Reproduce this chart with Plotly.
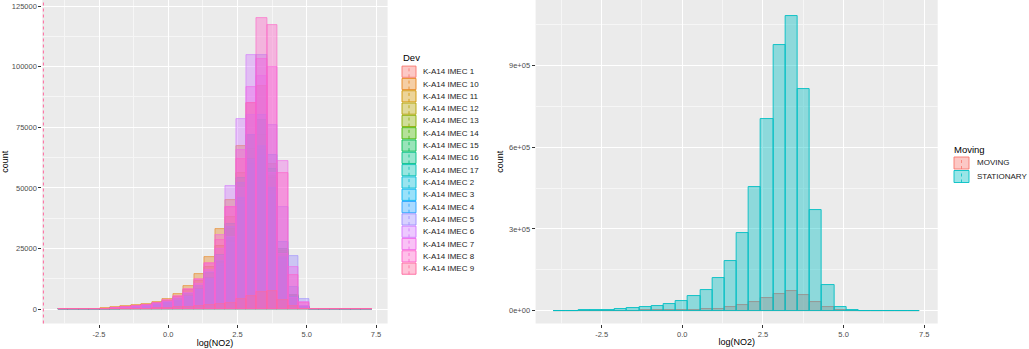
import math
import plotly.graph_objects as go

# ---------------- data ----------------
bin_start = -3.98
bin_width = 0.3777
n_bins = 30

devices = ["K-A14 IMEC 1", "K-A14 IMEC 10", "K-A14 IMEC 11", "K-A14 IMEC 12",
           "K-A14 IMEC 13", "K-A14 IMEC 14", "K-A14 IMEC 15", "K-A14 IMEC 16",
           "K-A14 IMEC 17", "K-A14 IMEC 2", "K-A14 IMEC 3", "K-A14 IMEC 4",
           "K-A14 IMEC 5", "K-A14 IMEC 6", "K-A14 IMEC 7", "K-A14 IMEC 8",
           "K-A14 IMEC 9"]

imec_1 = [80, 90, 100, 130, 250, 400, 600, 900, 1200, 1700, 2300, 3200, 4700, 7000, 10500,
          16000, 25000, 39000, 54000, 60000, 45000, 20000, 5000, 800, 100, 40, 30, 30, 20, 10]
imec_10 = [100, 110, 130, 180, 350, 800, 1200, 1800, 2050, 3150, 4250, 6300, 9450, 14500, 21600,
           33300, 45000, 67400, 85000, 92000, 60000, 25000, 6000, 900, 150, 50, 40, 30, 20, 10]
imec_11 = [60, 70, 90, 120, 220, 500, 800, 1300, 1700, 2600, 3600, 5200, 7800, 11800, 17500,
           26000, 38000, 56000, 72000, 78000, 55000, 24000, 6000, 1000, 120, 40, 30, 30, 20, 10]
imec_12 = [50, 60, 70, 100, 200, 400, 700, 1000, 1400, 2100, 2900, 4200, 6200, 9500, 14500,
           22000, 33000, 50000, 66000, 72000, 54000, 23000, 5500, 800, 100, 30, 20, 20, 20, 10]
imec_13 = [40, 50, 60, 80, 150, 300, 500, 800, 1100, 1600, 2300, 3300, 5000, 7800, 12000,
           18500, 28000, 43000, 58000, 63000, 47000, 19000, 4500, 700, 80, 30, 20, 20, 10, 10]
imec_14 = [40, 40, 50, 70, 130, 250, 450, 700, 1000, 1500, 2100, 3000, 4600, 7200, 11000,
           17000, 26000, 40000, 54000, 58000, 43000, 18000, 4300, 600, 100, 60, 80, 300, 80, 20]
imec_15 = [50, 50, 60, 90, 170, 330, 550, 850, 1200, 1800, 2500, 3600, 5400, 8300, 12800,
           19500, 30000, 46000, 62000, 67000, 50000, 21000, 5000, 800, 90, 30, 20, 20, 20, 10]
imec_16 = [60, 70, 80, 110, 200, 380, 650, 1000, 1400, 2100, 2900, 4200, 6200, 9600, 14800,
           22500, 35000, 54000, 72000, 78000, 58000, 25000, 6000, 900, 110, 40, 30, 20, 20, 10]
imec_17 = [50, 60, 70, 90, 170, 320, 540, 840, 1150, 1700, 2400, 3400, 5100, 7900, 12100,
           18400, 28800, 44800, 60000, 65600, 48800, 20800, 5000, 760, 100, 30, 20, 20, 20, 10]
imec_2 = [50, 60, 70, 90, 170, 310, 520, 820, 1100, 1650, 2300, 3300, 4900, 7600, 11600,
          17600, 27500, 43000, 58000, 63000, 47000, 20200, 4900, 730, 100, 30, 20, 20, 20, 10]
imec_3 = [50, 60, 70, 100, 180, 330, 550, 860, 1160, 1720, 2400, 3480, 5170, 7950, 12200,
          18700, 29200, 45700, 61500, 67500, 50200, 21400, 5200, 790, 100, 40, 20, 20, 20, 10]
imec_4 = [50, 60, 70, 100, 180, 330, 550, 850, 1150, 1700, 2400, 3500, 5200, 8000, 12500,
          20000, 34000, 52000, 72000, 80000, 63600, 27900, 9300, 1500, 200, 60, 40, 30, 20, 10]
imec_5 = [60, 70, 80, 110, 200, 380, 650, 1000, 1400, 2100, 2900, 4200, 6300, 9800, 15500,
          22000, 30000, 50000, 80000, 105000, 76000, 42000, 22000, 4250, 300, 60, 50, 40, 30, 10]
imec_6 = [70, 80, 90, 120, 220, 420, 700, 1100, 1500, 2200, 3100, 4500, 6700, 10400, 16200,
          25000, 51000, 78300, 104800, 96000, 56000, 22800, 4800, 1200, 150, 50, 30, 30, 20, 10]
imec_7 = [80, 90, 100, 140, 260, 480, 800, 1250, 1700, 2500, 3500, 5200, 7950, 12000, 18500,
          30500, 42000, 65700, 91500, 103000, 100000, 61300, 17600, 3150, 250, 60, 40, 30, 30, 10]
imec_8 = [90, 100, 110, 150, 280, 500, 850, 1300, 1800, 2700, 3800, 5500, 8200, 12500, 19000,
          28500, 42000, 62000, 85000, 120000, 117000, 56000, 14000, 2500, 250, 80, 60, 50, 40, 30]
imec_9 = [60, 60, 60, 60, 80, 100, 150, 200, 280, 400, 550, 750, 1000, 1400, 1650,
          2050, 2750, 4100, 5500, 7250, 7650, 3850, 1400, 300, 100, 60, 60, 60, 60, 60]

device_counts = [imec_1, imec_10, imec_11, imec_12, imec_13, imec_14, imec_15, imec_16,
                 imec_17, imec_2, imec_3, imec_4, imec_5, imec_6, imec_7, imec_8, imec_9]

moving_groups = ["MOVING", "STATIONARY"]
moving = [20, 30, 50, 80, 150, 300, 500, 800, 1200, 1800, 2600, 3500, 5000, 8000, 13000,
          21000, 31000, 46500, 62400, 71000, 57500, 31800, 12200, 3000, 300, 50, 30, 20, 20, 10]
stationary = [500, 700, 900, 1500, 4000, 6000, 9000, 13000, 17000, 26000, 35000, 53000, 77000,
              120000, 182000, 285000, 453000, 704000, 973000, 1081000, 814000, 370000, 94000,
              14700, 1500, 400, 300, 300, 400, 200]

x_tick_vals = [-2.5, 0.0, 2.5, 5.0, 7.5]
x_tick_text = ["-2.5", "0.0", "2.5", "5.0", "7.5"]
left_y_tick_vals = [0, 25000, 50000, 75000, 100000, 125000]
left_y_tick_text = ["0", "25000", "50000", "75000", "100000", "125000"]
right_y_tick_vals = [0, 300000, 600000, 900000]
right_y_tick_text = ["0e+00", "3e+05", "6e+05", "9e+05"]

# ---------------- styling helpers ----------------
W, H = 1029, 349
FONT = "Liberation Sans, Arial, sans-serif"
ALPHA_DEV = 0.4
ALPHA_MOV = 0.4


def hcl_rgb(h, c=100.0, l=65.0):
    WHITE_Y, WHITE_u, WHITE_v = 100.0, 0.1978398, 0.4683363
    hr = math.radians(h)
    U, V = c * math.cos(hr), c * math.sin(hr)
    Y = WHITE_Y * (((l + 16) / 116) ** 3 if l > 7.999592 else l / 903.3)
    u = U / (13 * l) + WHITE_u
    v = V / (13 * l) + WHITE_v
    X = 9.0 * Y * u / (4 * v)
    Z = -X / 3 - 5 * Y + 3 * Y / v

    def g(t):
        t = t / WHITE_Y
        t = 1.055 * t ** (1 / 2.4) - 0.055 if t > 0.00304 else 12.92 * t
        return int(round(255 * min(1.0, max(0.0, t))))

    return (g(3.240479 * X - 1.537150 * Y - 0.498535 * Z),
            g(-0.969256 * X + 1.875992 * Y + 0.041556 * Z),
            g(0.055648 * X - 0.204043 * Y + 1.057311 * Z))


def hue_pal(n):
    step = (360 - 360 / n) / (n - 1) if n > 1 else 0
    return [hcl_rgb(15 + i * step) for i in range(n)]


def rgba(c, a):
    return f"rgba({c[0]},{c[1]},{c[2]},{a})"


def rgb(c):
    return f"rgb({c[0]},{c[1]},{c[2]})"


def px(x):
    return x / W


def py(y):
    return 1 - y / H


centers = [bin_start + (i + 0.5) * bin_width for i in range(n_bins)]
dev_cols = hue_pal(len(devices))
mov_cols = hue_pal(len(moving_groups))

fig = go.Figure()

for name, counts, col in zip(devices, device_counts, dev_cols):
    fig.add_trace(go.Bar(x=centers, y=counts, width=bin_width, name=name,
                         marker=dict(color=rgba(col, ALPHA_DEV),
                                     line=dict(color=rgba(col, 0.75), width=0.8)),
                         xaxis="x", yaxis="y", showlegend=False))

for name, counts, col in zip(moving_groups, [moving, stationary], mov_cols):
    fig.add_trace(go.Bar(x=centers, y=counts, width=bin_width, name=name,
                         marker=dict(color=rgba(col, ALPHA_MOV), line=dict(color=rgb(col), width=0.9)),
                         xaxis="x2", yaxis="y2", showlegend=False))

x_range = [-4.547, 7.917]
y_dom = [py(323.5), 1.0]
tick_font = dict(family=FONT, size=7.5, color="#4D4D4D")
title_font = dict(family=FONT, size=9, color="#000000")

common_x = dict(range=x_range, tickmode="array", tickvals=x_tick_vals, ticktext=x_tick_text,
                showgrid=True, gridcolor="white", gridwidth=1.1, zeroline=False,
                ticks="outside", ticklen=3, tickcolor="#333333", tickwidth=1,
                tickfont=tick_font, showline=False, automargin=False,
                minor=dict(tickmode="array", tickvals=[-3.75, -1.25, 1.25, 3.75, 6.25],
                           showgrid=True, gridcolor="#F6F6F6", gridwidth=0.6),
                title=dict(text="log(NO2)", font=title_font, standoff=1))

fig.update_layout(
    width=W, height=H,
    margin=dict(l=0, r=0, t=0, b=0),
    paper_bgcolor="white", plot_bgcolor="#EBEBEB",
    barmode="overlay", bargap=0, showlegend=False,
    font=dict(family=FONT),
    xaxis=dict(domain=[px(42.35), px(387.6)], anchor="y", **common_x),
    xaxis2=dict(domain=[px(535.6), px(937.7)], anchor="y2", **common_x),
    yaxis=dict(domain=y_dom, anchor="x", range=[-5852, 127473],
               tickmode="array", tickvals=left_y_tick_vals, ticktext=left_y_tick_text,
               showgrid=True, gridcolor="white", gridwidth=1.1, zeroline=False,
               ticks="outside", ticklen=3, tickcolor="#333333", tickfont=tick_font,
               automargin=False,
               minor=dict(tickmode="array", tickvals=[12500, 37500, 62500, 87500, 112500],
                          showgrid=True, gridcolor="#F6F6F6", gridwidth=0.6),
               title=dict(text="count", font=title_font, standoff=3)),
    yaxis2=dict(domain=y_dom, anchor="x2", range=[-46944, 1139490],
                tickmode="array", tickvals=right_y_tick_vals, ticktext=right_y_tick_text,
                showgrid=True, gridcolor="white", gridwidth=1.1, zeroline=False,
                ticks="outside", ticklen=3, tickcolor="#333333", tickfont=tick_font,
                automargin=False,
                minor=dict(tickmode="array", tickvals=[150000, 450000, 750000, 1050000],
                           showgrid=True, gridcolor="#F6F6F6", gridwidth=0.6),
                title=dict(text="count", font=title_font, standoff=3)),
)

shapes = []
annotations = []

# dotted vertical reference line at the left edge of the left panel
shapes.append(dict(type="line", xref="x domain", yref="y domain", x0=0.003, x1=0.003, y0=0, y1=1,
                   line=dict(color=rgb(dev_cols[-1]), width=1, dash="dot"), layer="above"))

# legend: Dev
annotations.append(dict(x=px(401), y=py(57), xref="paper", yref="paper", text="Dev",
                        showarrow=False, xanchor="left", yanchor="middle",
                        font=dict(family=FONT, size=9.5, color="#000000")))
for k, (name, col) in enumerate(zip(devices, dev_cols)):
    yc = 71.7 + 12.31 * k
    shapes.append(dict(type="rect", xref="paper", yref="paper",
                       x0=px(402), x1=px(416), y0=py(yc + 5.6), y1=py(yc - 5.6),
                       fillcolor=rgba(col, 0.4), line=dict(color=rgb(col), width=0.9)))
    shapes.append(dict(type="line", xref="paper", yref="paper",
                       x0=px(409), x1=px(409), y0=py(yc + 5.6), y1=py(yc - 5.6),
                       line=dict(color=rgb(col), width=0.8, dash="dot")))
    annotations.append(dict(x=px(421), y=py(yc), xref="paper", yref="paper", text=name,
                            showarrow=False, xanchor="left", yanchor="middle",
                            font=dict(family=FONT, size=8, color="#1A1A1A")))

# legend: Moving
annotations.append(dict(x=px(952), y=py(149), xref="paper", yref="paper", text="Moving",
                        showarrow=False, xanchor="left", yanchor="middle",
                        font=dict(family=FONT, size=9.5, color="#000000")))
for k, (name, col) in enumerate(zip(moving_groups, mov_cols)):
    yc = 163 + 13.5 * k
    shapes.append(dict(type="rect", xref="paper", yref="paper",
                       x0=px(954), x1=px(969), y0=py(yc + 6), y1=py(yc - 6),
                       fillcolor=rgba(col, ALPHA_MOV), line=dict(color=rgb(col), width=0.9)))
    shapes.append(dict(type="line", xref="paper", yref="paper",
                       x0=px(961.5), x1=px(961.5), y0=py(yc + 6), y1=py(yc - 6),
                       line=dict(color=rgb(col), width=0.8, dash="dot")))
    annotations.append(dict(x=px(975), y=py(yc), xref="paper", yref="paper", text=name,
                            showarrow=False, xanchor="left", yanchor="middle",
                            font=dict(family=FONT, size=8, color="#1A1A1A")))

fig.update_layout(shapes=shapes, annotations=annotations)
fig.write_html("out.html", config={"displayModeBar": False},
               post_script="document.body.style.margin='0';document.body.style.overflow='hidden';")
